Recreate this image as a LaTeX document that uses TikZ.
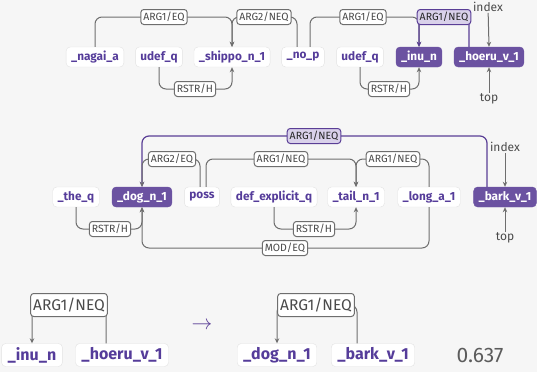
\documentclass[tikz,border=0pt]{standalone}
\usepackage{fontspec}
\setmainfont{Fira Sans}
\usepackage{tikz}
\usetikzlibrary{arrows.meta,positioning}
\definecolor{bgray}{HTML}{F6F6F6}
\definecolor{nodeline}{HTML}{E2E2E2}
\definecolor{predtext}{HTML}{553C9A}
\definecolor{hlfill}{HTML}{6B52A1}
\definecolor{hlline}{HTML}{5A3E96}
\definecolor{hllabel}{HTML}{D9D1EA}
\definecolor{edgegray}{HTML}{6E6E6E}
\definecolor{reltext}{HTML}{4A4A4A}
\tikzset{
  pred/.style={rounded corners=4pt,draw=nodeline,fill=white,text=predtext,
    font=\bfseries\fontsize{11.8}{13}\selectfont,minimum height=20pt,
    inner xsep=5pt,inner ysep=0pt},
  predhl/.style={pred,draw=hlfill,fill=hlfill,text=white},
  bigpred/.style={pred,font=\bfseries\fontsize{16}{18}\selectfont,
    minimum height=23pt,inner xsep=6pt},
  rel/.style={rounded corners=3pt,draw=edgegray,fill=white,text=reltext,
    line width=1pt,font=\fontsize{10.5}{12}\selectfont,
    minimum height=15pt,inner xsep=2.5pt,inner ysep=0pt},
  relhl/.style={rel,draw=hlline,fill=hllabel,text=black!85},
  bigrel/.style={rel,font=\fontsize{15.5}{17}\selectfont,minimum height=23pt},
  edge/.style={draw=edgegray,line width=1pt,rounded corners=7pt,
    -{Stealth[length=5pt,width=4.5pt]}},
  hledge/.style={edge,draw=hlline,fill=none,line width=1.2pt},
  note/.style={text=reltext,font=\fontsize{12}{14}\selectfont,inner sep=1pt}
}
\begin{document}
\begin{tikzpicture}[x=1pt,y=-1pt]
  \fill[bgray] (0,0) rectangle (537,372);
  \useasboundingbox (0,0) rectangle (537,372);

  % upper graph
  \node [pred] (nagai) at (95,57) {\_nagai\_a};
  \node [pred] (udefa) at (159,57) {udef\_q};
  \node [pred] (shippo) at (232,57) {\_shippo\_n\_1};
  \node [pred] (nop) at (303,57) {\_no\_p};
  \node [pred] (udefb) at (360,57) {udef\_q};
  \node [predhl] (inu) at (419,57) {\_inu\_n};
  \node [predhl] (hoeru) at (489,57) {\_hoeru\_v\_1};
  \node [note] (idxa) at (488,7) {index};
  \node [note] (topa) at (489,99) {top};

  \coordinate (ua1) at (164,17);
  \coordinate (ua2) at (264,17);
  \coordinate (ua3) at (363,17);
  \coordinate (ua4) at (444,17);
  \coordinate (ua5) at (195,89);
  \coordinate (ua6) at (389,89);

  \draw [edge] (nagai.north) |- (ua1) -| (shippo.north);
  \draw [edge] ([xshift=-6pt]nop.north) |- (ua2) -| (shippo.north);
  \draw [edge] ([xshift=7pt]nop.north) |- (ua3) -| (inu.north);
  \draw [hledge] ([xshift=-20pt]hoeru.north) |- (ua4) -| (inu.north);
  \draw [edge] (udefa.south) |- (ua5) -| (shippo.south);
  \draw [edge] (udefb.south) |- (ua6) -| (inu.south);
  \draw [edge] (idxa) -- (hoeru.north);
  \draw [edge] (topa) -- (hoeru.south);

  \node [rel] (la1) at (ua1) {ARG1/EQ};
  \node [rel] (la2) at (ua2) {ARG2/NEQ};
  \node [rel] (la3) at (ua3) {ARG1/EQ};
  \node [relhl] (la4) at (ua4) {ARG1/NEQ};
  \node [rel] (la5) at (ua5) {RSTR/H};
  \node [rel] (la6) at (ua6) {RSTR/H};

  % lower graph
  \node [pred] (theq) at (76,197) {\_the\_q};
  \node [predhl] (dog) at (142,197) {\_dog\_n\_1};
  \node [pred] (poss) at (202,197) {poss};
  \node [pred] (defx) at (274,197) {def\_explicit\_q};
  \node [pred] (tail) at (356,197) {\_tail\_n\_1};
  \node [pred] (long) at (429,197) {\_long\_a\_1};
  \node [predhl] (bark) at (505,197) {\_bark\_v\_1};
  \node [note] (idxb) at (505,147) {index};
  \node [note] (topb) at (505,238) {top};

  \coordinate (ub1) at (314,136);
  \coordinate (ub2) at (172,159);
  \coordinate (ub3) at (281,159);
  \coordinate (ub4) at (393,159);
  \coordinate (ub5) at (110,229);
  \coordinate (ub6) at (314,229);
  \coordinate (ub7) at (285,248);

  \draw [hledge] ([xshift=-18pt]bark.north) |- (ub1) -| (dog.north);
  \draw [edge] ([xshift=-2pt]poss.north) |- (ub2) -| (dog.north);
  \draw [edge] ([xshift=4pt]poss.north) |- (ub3) -| (tail.north);
  \draw [edge] (long.north) |- (ub4) -| (tail.north);
  \draw [edge] (theq.south) |- (ub5) -| (dog.south);
  \draw [edge] (defx.south) |- (ub6) -| (tail.south);
  \draw [edge] (long.south) |- (ub7) -| (dog.south);
  \draw [edge] (idxb) -- (bark.north);
  \draw [edge] (topb) -- (bark.south);

  \node [relhl] (lb1) at (ub1) {ARG1/NEQ};
  \node [rel] (lb2) at (ub2) {ARG2/EQ};
  \node [rel] (lb3) at (ub3) {ARG1/NEQ};
  \node [rel] (lb4) at (ub4) {ARG1/NEQ};
  \node [rel] (lb5) at (ub5) {RSTR/H};
  \node [rel] (lb6) at (ub6) {RSTR/H};
  \node [rel] (lb7) at (ub7) {MOD/EQ};

  % matched pair
  \node [bigpred] (inub) at (32,355) {\_inu\_n};
  \node [bigpred] (hoerub) at (122,355) {\_hoeru\_v\_1};
  \node [bigpred] (dogb) at (277,355) {\_dog\_n\_1};
  \node [bigpred] (barkb) at (373,355) {\_bark\_v\_1};
  \coordinate (uc1) at (69,305);
  \coordinate (uc2) at (316,305);
  \draw [edge] ([xshift=-16pt]hoerub.north) |- (uc1) -| (inub.north);
  \draw [edge] ([xshift=-16pt]barkb.north) |- (uc2) -| (dogb.north);
  \node [bigrel] (lc1) at (uc1) {ARG1/NEQ};
  \node [bigrel] (lc2) at (uc2) {ARG1/NEQ};
  \node [text=hlline,font=\fontsize{22}{24}\selectfont] (maps) at (202,326) {$\rightarrow$};
  \node [text=reltext!90,font=\fontsize{21}{24}\selectfont] (score) at (480,355) {0.637};
\end{tikzpicture}
\end{document}
